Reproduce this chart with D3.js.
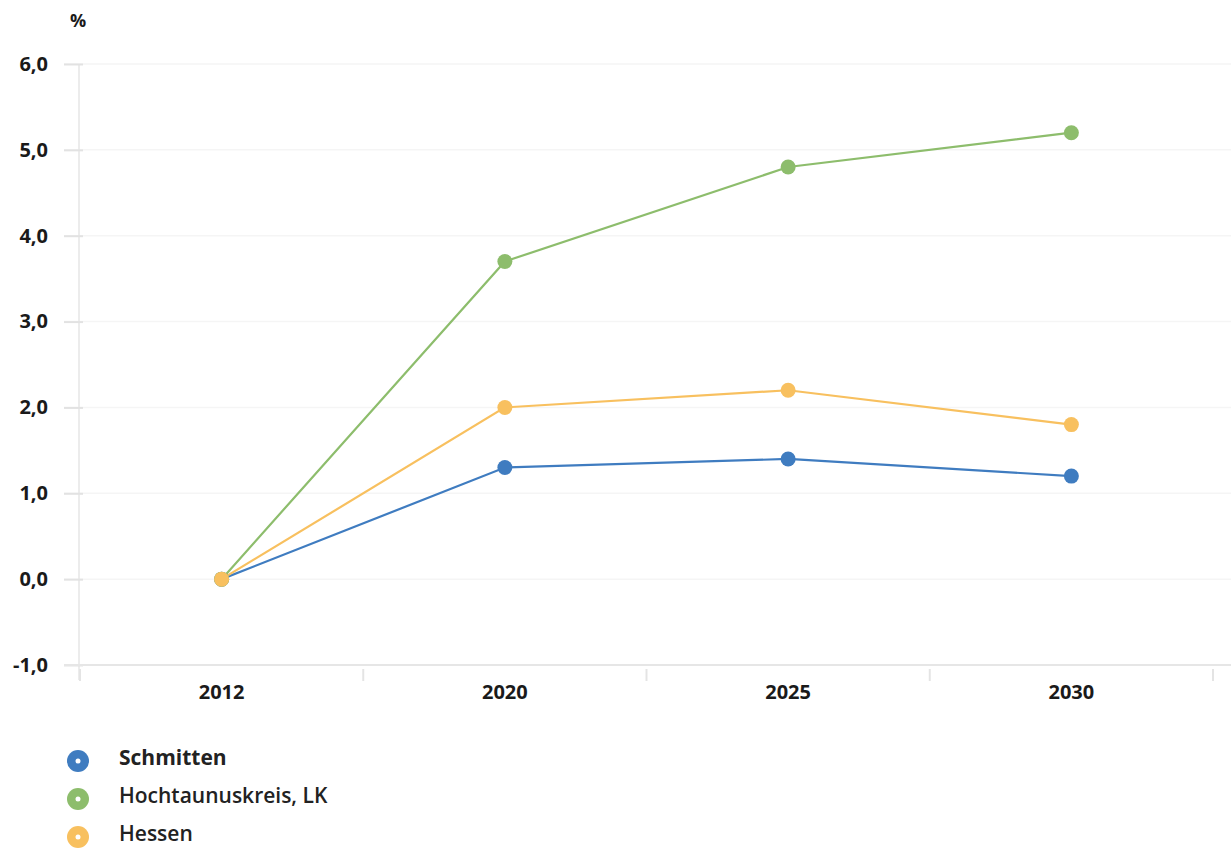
<!DOCTYPE html>
<html>
<head>
<meta charset="utf-8">
<script src="https://cdn.jsdelivr.net/npm/d3@7/dist/d3.min.js"></script>
<style>
  html, body { margin: 0; padding: 0; background: #fff; }
  svg { display: block; }
  svg text { font-family: "Open Sans", "DejaVu Sans", sans-serif; }
</style>
</head>
<body>
<svg id="chart" width="1231" height="854"></svg>
<script>
// Population change relative to 2012, in percent
const years = ["2012", "2020", "2025", "2030"];
const schmitten = [0.0, 1.3, 1.4, 1.2];
const hochtaunus = [0.0, 3.7, 4.8, 5.2];
const hessen = [0.0, 2.0, 2.2, 1.8];
const yTicks = [-1, 0, 1, 2, 3, 4, 5, 6];
const seriesNames = ["Schmitten", "Hochtaunuskreis, LK", "Hessen"];
const seriesColors = ["#3f7cc0", "#8dbd6c", "#f8c05f"];

const series = [
  { name: seriesNames[0], values: schmitten, color: seriesColors[0] },
  { name: seriesNames[1], values: hochtaunus, color: seriesColors[1] },
  { name: seriesNames[2], values: hessen, color: seriesColors[2] }
];

const svg = d3.select("#chart");
const fmt = v => d3.format(".1f")(v).replace(".", ",").replace("−", "-");

const x = d3.scaleBand().domain(years).range([80, 1213]);
const y = d3.scaleLinear().domain([-1, 6]).range([665, 64]);

// faint horizontal gridlines
svg.append("g").selectAll("line").data(yTicks.filter(t => t > -1)).join("line")
  .attr("x1", 64).attr("x2", 1231)
  .attr("y1", d => y(d)).attr("y2", d => y(d))
  .attr("stroke", "#f5f5f5").attr("stroke-width", 1.5);

// y axis
const yAxis = svg.append("g").attr("transform", "translate(83,0)")
  .call(d3.axisLeft(y).tickValues(yTicks).tickFormat(fmt).tickSize(19).tickPadding(16));
yAxis.attr("font-family", null).attr("font-size", null);
yAxis.select(".domain").attr("stroke", "#e6e6e6").attr("stroke-width", 1.5)
  .attr("d", `M-4,${y(6)}V${y(-1) + 15}`);
yAxis.selectAll(".tick line").attr("stroke", "#e2e2e2").attr("stroke-width", 2);
yAxis.selectAll(".tick text").attr("fill", "#1a1a1a")
  .style("font-size", "20px").style("font-weight", "700");

// x axis
const xAxis = svg.append("g").attr("transform", `translate(0,${y(-1)})`)
  .call(d3.axisBottom(x).tickSize(0).tickPadding(20));
xAxis.attr("font-family", null).attr("font-size", null);
xAxis.select(".domain").attr("stroke", "#e6e6e6").attr("stroke-width", 2)
  .attr("d", `M64,0H1231`);
xAxis.selectAll(".tick text").attr("fill", "#1a1a1a")
  .style("font-size", "20px").style("font-weight", "700");
// category boundary ticks
const bounds = years.map(d => x(d)).concat([x.range()[1]]);
xAxis.append("g").selectAll("line").data(bounds).join("line")
  .attr("x1", d => d).attr("x2", d => d).attr("y1", 4).attr("y2", 16)
  .attr("stroke", "#e4e4e4").attr("stroke-width", 2);

// "%" unit label
svg.append("text").attr("x", 78).attr("y", 27).attr("text-anchor", "middle")
  .attr("fill", "#1a1a1a").style("font-size", "18px").style("font-weight", "700").text("%");

// lines and markers
const cx = d => x(d) + x.bandwidth() / 2;
const line = d3.line().x((v, i) => cx(years[i])).y(v => y(v));

series.forEach(s => {
  svg.append("path").datum(s.values).attr("d", line)
    .attr("fill", "none").attr("stroke", s.color).attr("stroke-width", 2.2);
});
series.forEach(s => {
  svg.append("g").selectAll("circle").data(s.values).join("circle")
    .attr("cx", (v, i) => cx(years[i])).attr("cy", v => y(v)).attr("r", 7.5)
    .attr("fill", s.color);
});

// legend
const legend = svg.append("g").selectAll("g").data(series).join("g")
  .attr("transform", (d, i) => `translate(78,${761 + i * 38})`);
legend.append("circle").attr("r", 11).attr("fill", d => d.color);
legend.append("circle").attr("r", 2.5).attr("fill", "#fff");
legend.append("text").attr("x", 41).attr("y", -3).attr("dy", "0.35em")
  .attr("fill", "#222").style("font-size", "21px")
  .style("font-weight", (d, i) => i === 0 ? "700" : "600")
  .text(d => d.name);
</script>
</body>
</html>
